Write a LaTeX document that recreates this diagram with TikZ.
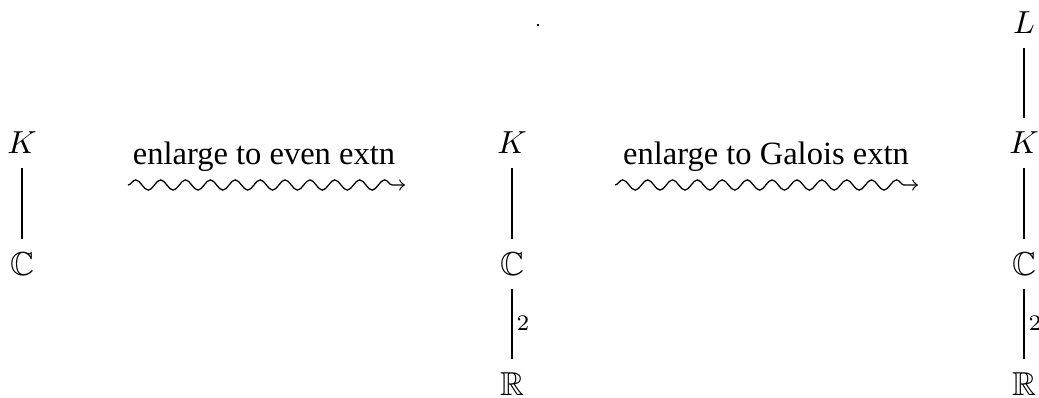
\documentclass[tikz,border=0pt]{standalone}
\usepackage[no-math]{fontspec}
\setmainfont{Liberation Serif}
\usepackage{amssymb}
\usetikzlibrary{decorations.pathmorphing}
\begin{document}
\begin{tikzpicture}[x=0.3135pt,y=-0.3135pt,
  obj/.style={inner sep=0pt, font=\fontsize{10.4}{12}\selectfont},
  ext/.style={line width=0.4pt, shorten <=4.2pt, shorten >=4.2pt},
  deg/.style={inner sep=0pt, font=\fontsize{10}{12}\selectfont},
  lbl/.style={inner sep=0pt, font=\fontsize{10.2}{12}\selectfont},
  squig/.style={->, line width=0.4pt, decorate,
    decoration={snake, amplitude=1.6pt, segment length=7.8pt, post length=1pt}}]
\useasboundingbox (0,0) rectangle (1039,398);
% column 1
\node[obj] (K1) at (22,143) {$K$};
\node[obj] (C1) at (22,264) {$\mathbb{C}$};
\draw[ext] (K1) -- (C1);
% column 2
\node[obj] (K2) at (512,143) {$K$};
\node[obj] (C2) at (512,264) {$\mathbb{C}$};
\node[obj] (R2) at (512,384) {$\mathbb{R}$};
\draw[ext] (K2) -- (C2);
\draw[ext] (C2) -- (R2);
\node[deg] (d2) at (523,323) {$\scriptstyle 2$};
% column 3
\node[obj] (L3) at (1024,23) {$L$};
\node[obj] (K3) at (1024,143) {$K$};
\node[obj] (C3) at (1024,264) {$\mathbb{C}$};
\node[obj] (R3) at (1024,384) {$\mathbb{R}$};
\draw[ext] (L3) -- (K3);
\draw[ext] (K3) -- (C3);
\draw[ext] (C3) -- (R3);
\node[deg] (d3) at (1035,323) {$\scriptstyle 2$};
% stray dot
\fill (536.5,23.5) rectangle (538.5,25.5);
% squiggly arrows
\coordinate (s1) at (128,185);
\coordinate (e1) at (405,185);
\draw[squig] (s1) -- (e1);
\node[lbl] (t1) at (264,157) {enlarge to even extn};
\coordinate (s2) at (615,185);
\coordinate (e2) at (918,185);
\draw[squig] (s2) -- (e2);
\node[lbl] (t2) at (766,157) {enlarge to Galois extn};
\end{tikzpicture}
\end{document}
